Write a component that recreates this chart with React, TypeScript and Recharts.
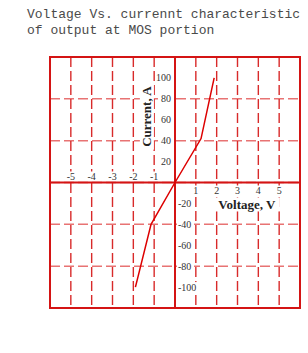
import React from 'react';
import {
  LineChart, Line, XAxis, YAxis, CartesianGrid,
  ReferenceLine, ReferenceDot, ReferenceArea
} from 'recharts';

// measured curve (V, A)
const VOLTAGE = [-1.9, -1.15, 0, 1.25, 1.88];
const CURRENT = [-100, -40, 0, 42, 100];

const X_GRID = [-6, -5, -4, -3, -2, -1, 0, 1, 2, 3, 4, 5, 6];
const Y_GRID = [-120, -100, -80, -60, -40, -20, 0, 20, 40, 60, 80, 100, 120];
const X_LABELS = [-5, -4, -3, -2, -1, 1, 2, 3, 4, 5];
const Y_LABELS = [100, 80, 60, 40, 20, -20, -40, -60, -80, -100];

const TITLE = ['Voltage Vs. currennt characteristic', 'of output at MOS portion'];

const data = VOLTAGE.map((v, i) => ({ v, i: CURRENT[i] }));

const RED = '#d41414';
const TICK_FONT = { fontFamily: '"Liberation Serif", serif', fontSize: 10, fill: '#333' };

function xTick(value: number) {
  return (props: any) => {
    const { cx, cy } = props;
    const w = String(value).length * 5 + 2;
    const ty = value < 0 ? cy - 3 : cy + 11;
    return (
      <g>
        <rect x={cx - w / 2} y={ty - 8} width={w} height={9} fill="#fff" />
        <text x={cx} y={ty} textAnchor="middle" {...TICK_FONT}>{value}</text>
      </g>
    );
  };
}

function yTick(value: number) {
  return (props: any) => {
    const { cx, cy } = props;
    const w = String(value).length * 5 + 2;
    const tx = value > 0 ? cx - 4 : cx + 3;
    const rx = value > 0 ? tx - w + 1 : tx - 1;
    return (
      <g>
        <rect x={rx} y={cy - 5} width={w} height={10} fill="#fff" />
        <text x={tx} y={cy + 3.5} textAnchor={value > 0 ? 'end' : 'start'} {...TICK_FONT}>{value}</text>
      </g>
    );
  };
}

const titleShape = (text: string, rotate: boolean) => (props: any) => {
  const { cx, cy } = props;
  const w = text.length * 6.6;
  return (
    <g transform={rotate ? `rotate(-90 ${cx} ${cy})` : undefined}>
      <rect x={cx - w / 2} y={cy - 7} width={w} height={14} fill="#fff" />
      <text x={cx} y={cy + 4.5} textAnchor="middle"
        style={{ fontFamily: '"Liberation Serif", serif', fontSize: 13, fontWeight: 'bold', fill: '#222' }}>
        {text}
      </text>
    </g>
  );
};

export default function App() {
  return (
    <div style={{ position: 'absolute', left: 0, top: 0, width: 308, height: 353, background: '#fff' }}>
      <div style={{
        position: 'absolute', left: 27, top: 7, fontFamily: '"Liberation Mono", monospace',
        fontSize: 13, lineHeight: '16px', color: '#4a4a4a', whiteSpace: 'pre'
      }}>
        {TITLE.map((t) => <div key={t}>{t}</div>)}
      </div>
      <LineChart width={308} height={353} data={data}
        margin={{ top: 57, left: 50, right: 8, bottom: 45 }}
        style={{ position: 'absolute', left: 0, top: 0 }}>
        <XAxis dataKey="v" type="number" domain={[-6, 6]} ticks={X_GRID} hide />
        <YAxis type="number" domain={[-120, 120]} ticks={Y_GRID} hide />
        {/* horizontal grid lighter than vertical one */}
        <CartesianGrid vertical={false} stroke="#e87373" strokeDasharray="10 4" strokeWidth={1.5} />
        <CartesianGrid horizontal={false} stroke="#d82a2a" strokeDasharray="10 4" strokeWidth={1.4} />
        <ReferenceLine y={0} stroke={RED} strokeWidth={2} />
        <ReferenceLine x={0} stroke={RED} strokeWidth={2} />
        {X_LABELS.map((v) => (
          <ReferenceDot key={'x' + v} x={v} y={0} r={0} shape={xTick(v)} />
        ))}
        {Y_LABELS.map((v) => (
          <ReferenceDot key={'y' + v} x={0} y={v} r={0} shape={yTick(v)} />
        ))}
        <ReferenceDot x={-1.35} y={63} r={0} shape={titleShape('Current, A', true)} />
        <ReferenceDot x={3.45} y={-21} r={0} shape={titleShape('Voltage, V', false)} />
        <Line dataKey="i" stroke="#dd0000" strokeWidth={1.5} dot={false} isAnimationActive={false} />
        <ReferenceArea x1={-6} x2={6} y1={-120} y2={120} fill="none" stroke={RED} strokeWidth={2} />
      </LineChart>
    </div>
  );
}
